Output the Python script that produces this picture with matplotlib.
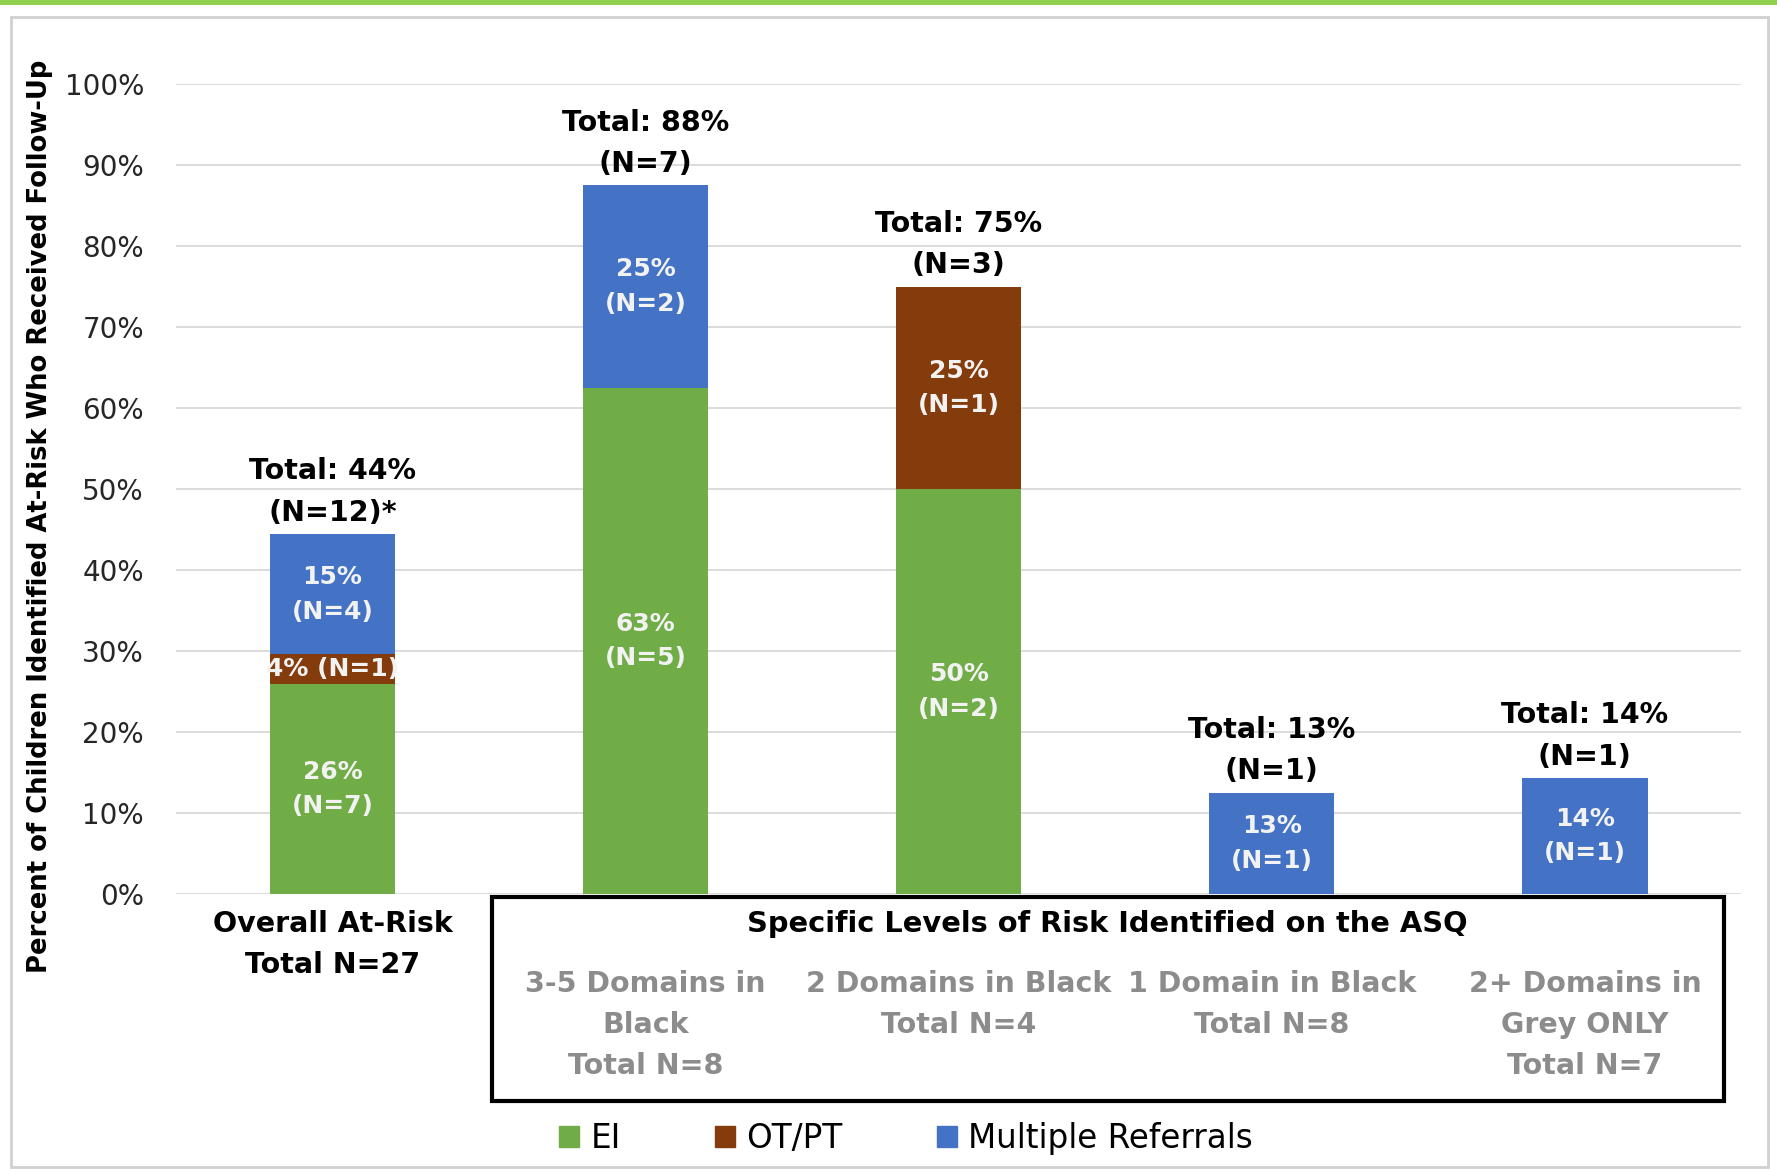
import numpy as np
import matplotlib.pyplot as plt
from matplotlib.patches import Rectangle, Patch
from matplotlib.transforms import blended_transform_factory

plt.rcParams['font.family'] = ['DejaVu Sans']

# data (percent of children)
ei = [25.9, 62.5, 50.0, 0, 0]
otpt = [3.7, 0, 25.0, 0, 0]
multi = [14.8, 25.0, 0, 12.5, 14.3]
ei_lab = ['26%\n(N=7)', '63%\n(N=5)', '50%\n(N=2)', '', '']
otpt_lab = ['4% (N=1)', '', '25%\n(N=1)', '', '']
multi_lab = ['15%\n(N=4)', '25%\n(N=2)', '', '13%\n(N=1)', '14%\n(N=1)']
total_lab = ['Total: 44%\n(N=12)*', 'Total: 88%\n(N=7)', 'Total: 75%\n(N=3)',
             'Total: 13%\n(N=1)', 'Total: 14%\n(N=1)']
cat_lab = ['3-5 Domains in\nBlack\nTotal N=8', '2 Domains in Black\nTotal N=4',
           '1 Domain in Black\nTotal N=8', '2+ Domains in\nGrey ONLY\nTotal N=7']
overall_lab = 'Overall At-Risk\nTotal N=27'
box_title = 'Specific Levels of Risk Identified on the ASQ'
yticks = np.arange(0, 101, 10)

c_ei = '#70AD47'
c_ot = '#843C0C'
c_mu = '#4472C4'

fig = plt.figure(figsize=(17.77, 11.70), dpi=100)
ax = fig.add_axes([0.099, 0.236, 0.881, 0.692])

x = np.arange(len(ei))
w = 0.4
ei = np.array(ei); otpt = np.array(otpt); multi = np.array(multi)
ax.bar(x, ei, w, color=c_ei, zorder=3)
ax.bar(x, otpt, w, bottom=ei, color=c_ot, zorder=3)
ax.bar(x, multi, w, bottom=ei + otpt, color=c_mu, zorder=3)

lab_kw = dict(ha='center', va='center', color='#F2F2F2', fontsize=18,
              fontweight='bold', linespacing=1.55, zorder=4)
for i in range(len(x)):
    if ei_lab[i]:
        ax.text(x[i], ei[i] / 2, ei_lab[i], **lab_kw)
    if otpt_lab[i]:
        ax.text(x[i], ei[i] + otpt[i] / 2, otpt_lab[i], **lab_kw)
    if multi_lab[i]:
        ax.text(x[i], ei[i] + otpt[i] + multi[i] / 2, multi_lab[i], **lab_kw)
    top = ei[i] + otpt[i] + multi[i]
    ax.text(x[i], top + 0.9, total_lab[i], ha='center', va='bottom',
            fontsize=20.5, fontweight='bold', color='black', linespacing=1.62)

ax.set_xlim(-0.5, 4.5)
ax.set_ylim(0, 100)
ax.set_yticks(yticks)
ax.set_yticklabels([f'{v}%' for v in yticks], fontsize=20, color='#262626')
ax.set_xticks([])
ax.tick_params(axis='y', length=0, pad=23)
ax.grid(axis='y', color='#D9D9D9', linewidth=1.3, zorder=0)
for s in ax.spines.values():
    s.set_visible(False)

fig.text(0.0225, 0.559, 'Percent of Children Identified At-Risk Who Received Follow-Up',
         rotation=90, ha='center', va='center', fontsize=18.6, fontweight='bold')

tr = blended_transform_factory(ax.transData, ax.transAxes)
ax.text(x[0], -0.02, overall_lab, transform=tr, ha='center', va='top',
        fontsize=20.5, fontweight='bold', linespacing=1.6, clip_on=False)

box = Rectangle((0.509, -0.256), 3.934, 0.252, transform=tr, fill=False,
                edgecolor='black', linewidth=3, clip_on=False)
ax.add_patch(box)
ax.text((0.509 + 4.443) / 2, -0.037, box_title, transform=tr, ha='center',
        va='center', fontsize=20.8, fontweight='bold', clip_on=False)
for i, lab in enumerate(cat_lab):
    ax.text(x[i + 1], -0.094, lab, transform=tr, ha='center', va='top',
            fontsize=20.5, fontweight='bold', color='#8C8C8C', linespacing=1.6,
            clip_on=False)

handles = [Patch(color=c_ei, label='EI'), Patch(color=c_ot, label='OT/PT'),
           Patch(color=c_mu, label='Multiple Referrals')]
fig.legend(handles=handles, loc='center', bbox_to_anchor=(0.51, 0.027), ncol=3,
           frameon=False, fontsize=23.5, handlelength=0.6, handleheight=0.6,
           handletextpad=0.35, columnspacing=2.9)

# outer frame and top accent line
fig.patches.append(Rectangle((11 / 1777, 3 / 1170), 1757 / 1777, 1150 / 1170,
                             transform=fig.transFigure, fill=False,
                             edgecolor='#D0D0D0', linewidth=2))
fig.patches.append(Rectangle((0, 1 - 5 / 1170), 1, 5 / 1170, transform=fig.transFigure,
                             color='#92D050', linewidth=0))

plt.savefig('out.png', dpi=100)
